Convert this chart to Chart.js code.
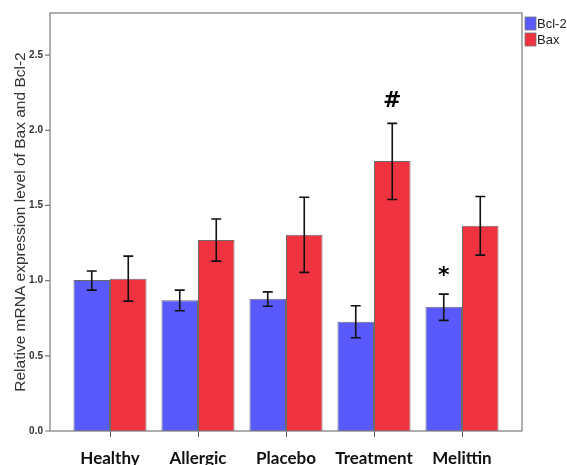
<!DOCTYPE html>
<html>
<head>
<meta charset="utf-8">
<style>
*{padding:0;margin:0;box-sizing:border-box}
html,body{width:567px;height:465px;background:#ffffff}
.wrapper{position:fixed;left:0;top:0;width:567px;height:465px}
</style>
</head>
<body>
<div class="wrapper"><canvas id="myChart"></canvas></div>
<script src="https://cdn.jsdelivr.net/npm/chart.js"></script>
<script>
const groups = ['Healthy', 'Allergic', 'Placebo', 'Treatment', 'Melittin'];
const seriesNames = ['Bcl-2', 'Bax'];
const bcl2 = [1.005, 0.87, 0.88, 0.727, 0.826];
const bcl2Low = [0.937, 0.80, 0.83, 0.62, 0.736];
const bcl2High = [1.064, 0.937, 0.925, 0.833, 0.91];
const bax = [1.013, 1.27, 1.305, 1.795, 1.365];
const baxLow = [0.864, 1.13, 1.055, 1.54, 1.17];
const baxHigh = [1.163, 1.41, 1.555, 2.046, 1.56];
const bcl2Marks = ['', '', '', '', '*'];
const baxMarks = ['', '', '', '#', ''];
const yTicks = [0, 0.5, 1.0, 1.5, 2.0, 2.5];
const yMax = 2.78;

const blue = '#5a5afc';
const red = '#ef3340';
const lows = [bcl2Low, baxLow];
const highs = [bcl2High, baxHigh];
const marks = [bcl2Marks, baxMarks];

// frame, y tick marks, error bars, significance marks, legend
const extras = {
  id: 'extras',
  afterDatasetsDraw(chart) {
    const ctx = chart.ctx;
    const a = chart.chartArea;
    const y = chart.scales.y;
    const fl = a.left - 16, fr = a.right + 16;
    ctx.save();
    ctx.strokeStyle = '#7a7a7a';
    ctx.lineWidth = 1.2;
    ctx.strokeRect(fl, a.top, fr - fl, a.bottom - a.top);
    ctx.beginPath();
    yTicks.forEach(v => {
      const py = y.getPixelForValue(v);
      ctx.moveTo(fl - 5, py);
      ctx.lineTo(fl, py);
    });
    ctx.stroke();

    ctx.strokeStyle = '#111';
    ctx.lineWidth = 1.6;
    chart.data.datasets.forEach((ds, di) => {
      const meta = chart.getDatasetMeta(di);
      meta.data.forEach((bar, i) => {
        const x = bar.x;
        const lo = y.getPixelForValue(lows[di][i]);
        const hi = y.getPixelForValue(highs[di][i]);
        ctx.beginPath();
        ctx.moveTo(x, lo); ctx.lineTo(x, hi);
        ctx.moveTo(x - 5, lo); ctx.lineTo(x + 5, lo);
        ctx.moveTo(x - 5, hi); ctx.lineTo(x + 5, hi);
        ctx.stroke();
        if (marks[di][i]) {
          ctx.fillStyle = '#000';
          ctx.font = 'bold 22px "DejaVu Sans", Arial';
          ctx.textAlign = 'center';
          ctx.textBaseline = 'middle';
          ctx.fillText(marks[di][i], x, hi - (marks[di][i] == '*' ? 18 : 22));
        }
      });
    });

    // legend
    const colors = [blue, red];
    ctx.font = '13px "Liberation Sans Narrow", "Liberation Sans", Arial';
    ctx.textAlign = 'left';
    ctx.textBaseline = 'middle';
    seriesNames.forEach((name, i) => {
      const ly = a.top + 10 + i * 16;
      ctx.fillStyle = colors[i];
      ctx.fillRect(fr + 3, ly - 6, 11, 13);
      ctx.strokeStyle = '#777';
      ctx.lineWidth = 0.8;
      ctx.strokeRect(fr + 3, ly - 6, 11, 13);
      ctx.fillStyle = '#222';
      ctx.fillText(name, fr + 15, ly + 1);
    });
    ctx.restore();
  },
};

const ctx = document.getElementById('myChart').getContext('2d');
new Chart(ctx, {
  type: 'bar',
  data: {
    labels: groups,
    datasets: [
      { label: seriesNames[0], data: bcl2, backgroundColor: blue, borderColor: 'rgba(70,70,70,0.8)', borderWidth: 1 },
      { label: seriesNames[1], data: bax, backgroundColor: red, borderColor: 'rgba(70,70,70,0.8)', borderWidth: 1 },
    ],
  },
  plugins: [extras],
  options: {
    responsive: true,
    maintainAspectRatio: false,
    animation: false,
    categoryPercentage: 0.83,
    barPercentage: 1,
    layout: { padding: { top: 13, right: 61, left: 0, bottom: 0 } },
    plugins: {
      legend: { display: false },
      tooltip: { enabled: false },
    },
    scales: {
      x: {
        offset: true,
        afterFit: (s) => { s.height = 34; },
        grid: { display: true, offset: false, drawOnChartArea: false, tickLength: 6, color: '#555', tickColor: '#555' },
        border: { display: false },
        ticks: {
          padding: 11,
          color: '#111',
          font: { family: 'Lato, "Open Sans", sans-serif', size: 17, weight: 'bold' },
        },
      },
      y: {
        min: 0,
        max: yMax,
        afterFit: (s) => { s.width = 66; s.paddingTop = 0; s.paddingBottom = 0; },
        afterBuildTicks: (s) => { s.ticks = yTicks.map(v => ({ value: v })); },
        grid: { display: false, drawTicks: false },
        border: { display: false },
        ticks: {
          padding: 23,
          color: '#333',
          font: { family: '"Liberation Sans Narrow", "Liberation Sans", Arial', size: 10, weight: 'bold' },
          callback: (v) => Number(v).toFixed(1),
        },
        title: {
          display: true,
          text: 'Relative mRNA expression level of Bax and Bcl-2',
          color: '#333',
          padding: { top: 11, bottom: 0 },
          font: { family: '"Liberation Sans", Arial', size: 15.5 },
        },
      },
    },
  },
});
</script>
</body>
</html>
